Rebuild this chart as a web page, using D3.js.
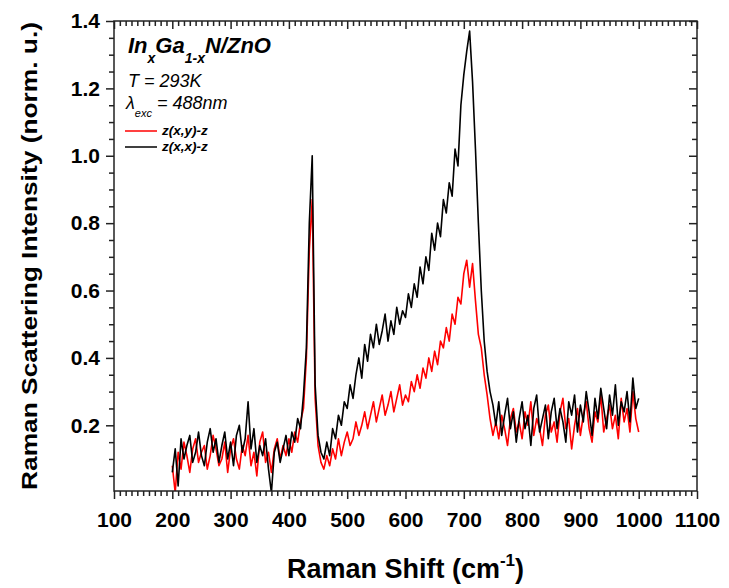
<!DOCTYPE html>
<html>
<head>
<meta charset="utf-8">
<script src="https://cdn.jsdelivr.net/npm/d3@7"></script>
<style>
  body { margin: 0; background: #fff; }
  svg { font-family: "Liberation Sans", Arial, sans-serif; }
</style>
</head>
<body>
<div id="chart"></div>
<script>
// Raman spectra, sampled every 5 cm-1 from 200 to 1000
var shift = d3.range(200, 1001, 5);

// z(x,y)-z  (red)
var xyValues = [
  0.08, 0.00, 0.12, 0.07, 0.15, 0.11, 0.06, 0.13, 0.16, 0.09,
  0.12, 0.14, 0.07, 0.11, 0.17, 0.13, 0.08, 0.10, 0.15, 0.06,
  0.13, 0.16, 0.10, 0.07, 0.14, 0.11, 0.17, 0.08, 0.12, 0.05,
  0.15, 0.18, 0.09, 0.12, 0.06, 0.13, 0.16, 0.10, 0.14, 0.11,
  0.16, 0.12, 0.18, 0.15, 0.21, 0.25, 0.40, 0.72, 0.87, 0.28,
  0.14, 0.09, 0.07, 0.11, 0.08, 0.13, 0.10, 0.16, 0.11, 0.15,
  0.18, 0.14, 0.16, 0.21, 0.17, 0.20, 0.24, 0.19, 0.23, 0.27,
  0.21, 0.25, 0.29, 0.23, 0.26, 0.30, 0.24, 0.28, 0.32, 0.26,
  0.29, 0.27, 0.33, 0.30, 0.35, 0.31, 0.37, 0.34, 0.40, 0.36,
  0.42, 0.38, 0.45, 0.43, 0.49, 0.45, 0.53, 0.50, 0.58, 0.56,
  0.65, 0.69, 0.61, 0.68, 0.57, 0.47, 0.43, 0.35, 0.29, 0.22,
  0.17, 0.21, 0.16, 0.23, 0.19, 0.14, 0.22, 0.25, 0.18, 0.21,
  0.16, 0.24, 0.20, 0.27, 0.17, 0.22, 0.19, 0.14, 0.23, 0.26,
  0.18, 0.21, 0.15, 0.24, 0.28, 0.19, 0.22, 0.13, 0.20, 0.25,
  0.17, 0.23, 0.27, 0.19, 0.15, 0.24, 0.21, 0.29, 0.18, 0.22,
  0.26, 0.19, 0.23, 0.16, 0.28, 0.21, 0.25, 0.18, 0.30, 0.22,
  0.18
];

// z(x,x)-z  (black)
var xxValues = [
  0.06, 0.13, 0.02, 0.16, 0.10, 0.14, 0.17, 0.09, 0.12, 0.18,
  0.11, 0.08, 0.15, 0.19, 0.12, 0.16, 0.09, 0.14, 0.18, 0.10,
  0.15, 0.08, 0.17, 0.20, 0.12, 0.16, 0.27, 0.13, 0.19, 0.09,
  0.14, 0.11, 0.16, 0.07, 0.00, 0.12, 0.15, 0.09, 0.13, 0.17,
  0.11, 0.18, 0.15, 0.22, 0.19, 0.29, 0.43, 0.80, 1.00, 0.32,
  0.17, 0.12, 0.10, 0.15, 0.11, 0.19, 0.16, 0.23, 0.20, 0.27,
  0.25, 0.32, 0.28, 0.35, 0.40, 0.34, 0.44, 0.39, 0.47, 0.43,
  0.50, 0.44, 0.48, 0.53, 0.45, 0.51, 0.47, 0.55, 0.50, 0.54,
  0.52, 0.59, 0.55, 0.62, 0.58, 0.67, 0.62, 0.70, 0.66, 0.77,
  0.72, 0.80, 0.76, 0.87, 0.83, 0.92, 0.88, 1.02, 0.97, 1.15,
  1.24, 1.31, 1.37, 1.22, 1.02, 0.80, 0.60, 0.45, 0.36, 0.30,
  0.26, 0.20, 0.27, 0.17, 0.23, 0.28, 0.19, 0.24, 0.15, 0.22,
  0.27, 0.19, 0.23, 0.14, 0.25, 0.29, 0.18, 0.22, 0.26, 0.16,
  0.24, 0.28, 0.19, 0.25, 0.21, 0.15, 0.27, 0.23, 0.29, 0.18,
  0.26, 0.21, 0.30, 0.24, 0.17, 0.28, 0.22, 0.31, 0.25, 0.19,
  0.29, 0.23, 0.32, 0.20, 0.27, 0.24, 0.30, 0.21, 0.34, 0.25,
  0.28
];

var xTicks = [100, 200, 300, 400, 500, 600, 700, 800, 900, 1000, 1100];
var yTicks = [0.2, 0.4, 0.6, 0.8, 1.0, 1.2, 1.4];

var svgWidth = 729;
var svgHeight = 588;
var margin = { top: 21, right: 32, bottom: 97, left: 114 };
var width = svgWidth - margin.left - margin.right;
var height = svgHeight - margin.top - margin.bottom;

var svg = d3.select("#chart")
  .append("svg")
  .attr("width", svgWidth)
  .attr("height", svgHeight);

var chartGroup = svg.append("g")
  .attr("transform", `translate(${margin.left}, ${margin.top})`);

// scales
var xScale = d3.scaleLinear().domain([100, 1100]).range([0, width]);
var yScale = d3.scaleLinear().domain([0.005, 1.4]).range([height, 0]);

var xMinor = d3.range(100, 1101, 10).filter(d => d % 100 !== 0);
var yMinor = d3.range(1, 28).map(d => d * 0.05).filter(d => Math.round(d * 20) % 4 !== 0);

function styleAxis(g) {
  g.select(".domain").remove();
  g.selectAll(".tick line").attr("stroke", "#222").attr("stroke-width", 1.5);
  g.selectAll("text")
    .attr("fill", "#000")
    .style("font-size", "21px")
    .style("font-weight", "bold");
}

// bottom axis
chartGroup.append("g")
  .attr("transform", `translate(0, ${height})`)
  .call(d3.axisBottom(xScale).tickValues(xTicks).tickSize(8).tickPadding(13).tickFormat(d3.format("d")))
  .call(styleAxis);
chartGroup.append("g")
  .attr("transform", `translate(0, ${height})`)
  .call(d3.axisBottom(xScale).tickValues(xMinor).tickSize(5).tickFormat(""))
  .call(styleAxis);

// top axis (ticks pointing in)
chartGroup.append("g")
  .call(d3.axisTop(xScale).tickValues(xTicks).tickSize(-8).tickFormat(""))
  .call(styleAxis);
chartGroup.append("g")
  .call(d3.axisTop(xScale).tickValues(xMinor).tickSize(-5).tickFormat(""))
  .call(styleAxis);

// left axis
chartGroup.append("g")
  .call(d3.axisLeft(yScale).tickValues(yTicks).tickSize(8).tickPadding(6).tickFormat(d3.format(".1f")))
  .call(styleAxis);
chartGroup.append("g")
  .call(d3.axisLeft(yScale).tickValues(yMinor).tickSize(5).tickFormat(""))
  .call(styleAxis);

// right axis (ticks pointing in)
chartGroup.append("g")
  .attr("transform", `translate(${width}, 0)`)
  .call(d3.axisRight(yScale).tickValues(yTicks).tickSize(-8).tickFormat(""))
  .call(styleAxis);
chartGroup.append("g")
  .attr("transform", `translate(${width}, 0)`)
  .call(d3.axisRight(yScale).tickValues(yMinor).tickSize(-5).tickFormat(""))
  .call(styleAxis);

// clip
chartGroup.append("clipPath").attr("id", "plotClip")
  .append("rect").attr("width", width).attr("height", height);

var line = d3.line()
  .x((d, i) => xScale(shift[i]))
  .y(d => yScale(d));

chartGroup.append("path")
  .datum(xyValues)
  .attr("clip-path", "url(#plotClip)")
  .attr("fill", "none")
  .attr("stroke", "#ff0000")
  .attr("stroke-width", 1.6)
  .attr("stroke-linejoin", "round")
  .attr("d", line);

chartGroup.append("path")
  .datum(xxValues)
  .attr("clip-path", "url(#plotClip)")
  .attr("fill", "none")
  .attr("stroke", "#000")
  .attr("stroke-width", 1.6)
  .attr("stroke-linejoin", "round")
  .attr("d", line);

// frame
chartGroup.append("rect")
  .attr("width", width)
  .attr("height", height)
  .attr("fill", "none")
  .attr("stroke", "#222")
  .attr("stroke-width", 1.5);

// annotation
var t1 = chartGroup.append("text")
  .attr("x", 14).attr("y", 32)
  .style("font-weight", "bold").style("font-style", "italic").style("font-size", "22px");
t1.append("tspan").text("In");
t1.append("tspan").attr("dy", 10).style("font-size", "14px").text("x");
t1.append("tspan").attr("dy", -10).text("Ga");
t1.append("tspan").attr("dy", 10).style("font-size", "14px").text("1-x");
t1.append("tspan").attr("dy", -10).text("N/ZnO");

chartGroup.append("text")
  .attr("x", 14).attr("y", 66)
  .style("font-style", "italic").style("font-size", "18px")
  .text("T = 293K");

var t3 = chartGroup.append("text")
  .attr("x", 12).attr("y", 88)
  .style("font-style", "italic").style("font-size", "18px");
t3.append("tspan").text("\u03bb");
t3.append("tspan").attr("dy", 8).style("font-size", "11px").text("exc");
t3.append("tspan").attr("dy", -8).text(" = 488nm");

// legend
var legendItems = [
  { label: "z(x,y)-z", color: "#ff0000" },
  { label: "z(x,x)-z", color: "#000" }
];
legendItems.forEach(function(item, i) {
  chartGroup.append("line")
    .attr("x1", 11).attr("x2", 43)
    .attr("y1", 110 + i * 16).attr("y2", 110 + i * 16)
    .attr("stroke", item.color).attr("stroke-width", 1.5);
  chartGroup.append("text")
    .attr("x", 48).attr("y", 114 + i * 16)
    .style("font-weight", "bold").style("font-style", "italic").style("font-size", "13.5px")
    .text(item.label);
});

// axis titles
svg.append("text")
  .attr("transform", `translate(37, ${margin.top + height / 2}) rotate(-90)`)
  .attr("text-anchor", "middle")
  .attr("textLength", 468)
  .attr("lengthAdjust", "spacingAndGlyphs")
  .style("font-weight", "bold").style("font-size", "22px")
  .text("Raman Scattering Intensity (norm. u.)");

var xt = svg.append("text")
  .attr("x", margin.left + width / 2).attr("y", 578)
  .attr("text-anchor", "middle")
  .style("font-weight", "bold").style("font-size", "27px");
xt.append("tspan").text("Raman Shift (cm");
xt.append("tspan").attr("dy", -12).style("font-size", "17px").text("-1");
xt.append("tspan").attr("dy", 12).text(")");
</script>
</body>
</html>
